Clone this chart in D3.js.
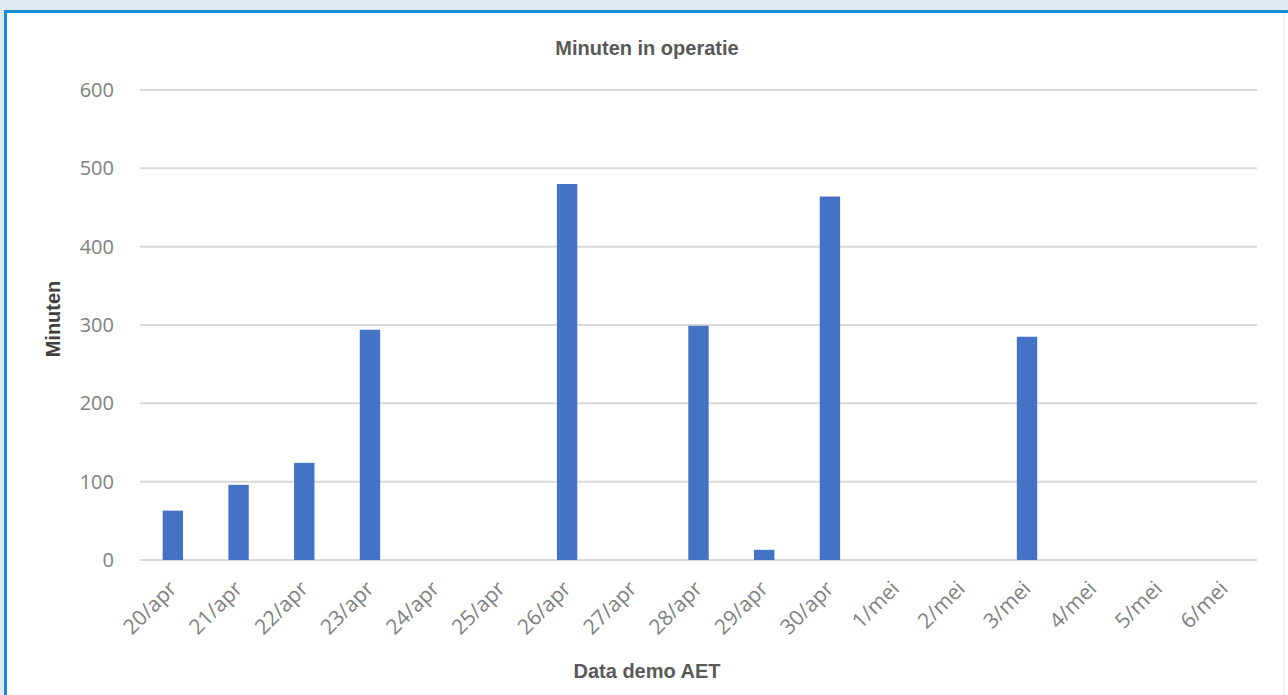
<!DOCTYPE html>
<html>
<head>
<meta charset="utf-8">
<script src="https://cdn.jsdelivr.net/npm/d3@7"></script>
<style>
    body { margin: 0; background: #dfe9f5; }
    #chart { position: absolute; left: 0; top: 0; }
</style>
</head>
<body>
<div id="chart"></div>
<script>
document.addEventListener('DOMContentLoaded', () => {
    const dates = ['20/apr', '21/apr', '22/apr', '23/apr', '24/apr', '25/apr', '26/apr', '27/apr',
        '28/apr', '29/apr', '30/apr', '1/mei', '2/mei', '3/mei', '4/mei', '5/mei', '6/mei'];
    const minutes = [63, 96, 124, 294, 0, 0, 480, 0, 299, 13, 464, 0, 0, 285, 0, 0, 0];
    const yTicks = [0, 100, 200, 300, 400, 500, 600];

    const W = 1288, H = 695;
    const margin = { top: 90, right: 31, bottom: 135, left: 140 };
    const width = W - margin.left - margin.right;
    const height = H - margin.top - margin.bottom;

    const root = d3.select('#chart')
        .append('svg')
        .attr('width', W)
        .attr('height', H);

    // panel + border
    root.append('rect')
        .attr('x', 5.5).attr('y', 11.5)
        .attr('width', W).attr('height', H)
        .attr('fill', 'white')
        .attr('stroke', '#1a8ad6')
        .attr('stroke-width', 3);
    root.append('line')
        .attr('x1', 1284).attr('x2', 1284)
        .attr('y1', 13).attr('y2', H)
        .style('stroke', '#e4e4e4')
        .style('stroke-width', 1);

    const svg = root.append('g')
        .attr('transform', `translate(${margin.left},${margin.top})`);

    const xScale = d3.scaleBand().domain(dates).range([0, width]).paddingInner(0.69).paddingOuter(0.345);
    const yScale = d3.scaleLinear().domain([0, 600]).range([height, 0]);

    // gridlines
    svg.selectAll('.grid')
        .data(yTicks)
        .enter()
        .append('line')
        .attr('class', 'grid')
        .attr('x1', 0)
        .attr('x2', width)
        .attr('y1', d => yScale(d))
        .attr('y2', d => yScale(d))
        .style('stroke', '#d9d9d9')
        .style('stroke-width', 2);

    const yAxis = d3.axisLeft(yScale).tickValues(yTicks).tickSize(0).tickPadding(26);
    const yAxisGroup = svg.append('g').call(yAxis);
    yAxisGroup.select('.domain').remove();
    yAxisGroup.selectAll('text')
        .style('font-family', '"Open Sans", sans-serif')
        .style('font-size', '20px')
        .style('fill', '#808080');

    svg.selectAll('.bar')
        .data(dates.map((d, i) => ({ date: d, value: minutes[i] })))
        .enter()
        .append('rect')
        .attr('class', 'bar')
        .attr('x', d => xScale(d.date))
        .attr('y', d => yScale(d.value))
        .attr('width', xScale.bandwidth())
        .attr('height', d => height - yScale(d.value))
        .attr('fill', '#4472c4');

    const xAxis = d3.axisBottom(xScale).tickSize(0).tickPadding(0);
    const xAxisGroup = svg.append('g')
        .attr('transform', `translate(0, ${height})`)
        .call(xAxis);
    xAxisGroup.select('.domain').remove();
    xAxisGroup.selectAll('text')
        .attr('dy', 0)
        .attr('transform', 'translate(5, 30) rotate(-45)')
        .style('text-anchor', 'end')
        .style('font-family', '"Open Sans", sans-serif')
        .style('font-size', '21px')
        .style('fill', '#808080');

    root.append('text')
        .attr('x', 647).attr('y', 55)
        .attr('text-anchor', 'middle')
        .style('font-family', '"Liberation Sans", Arial, sans-serif')
        .style('font-weight', 'bold')
        .style('font-size', '20px')
        .style('fill', '#595959')
        .text('Minuten in operatie');

    root.append('text')
        .attr('x', 647).attr('y', 678)
        .attr('text-anchor', 'middle')
        .style('font-family', '"Liberation Sans", Arial, sans-serif')
        .style('font-weight', 'bold')
        .style('font-size', '20px')
        .style('fill', '#595959')
        .text('Data demo AET');

    root.append('text')
        .attr('transform', 'translate(60, 319) rotate(-90)')
        .attr('text-anchor', 'middle')
        .style('font-family', '"Liberation Sans", Arial, sans-serif')
        .style('font-weight', 'bold')
        .style('font-size', '20px')
        .style('fill', '#404040')
        .text('Minuten');
});
</script>
</body>
</html>
